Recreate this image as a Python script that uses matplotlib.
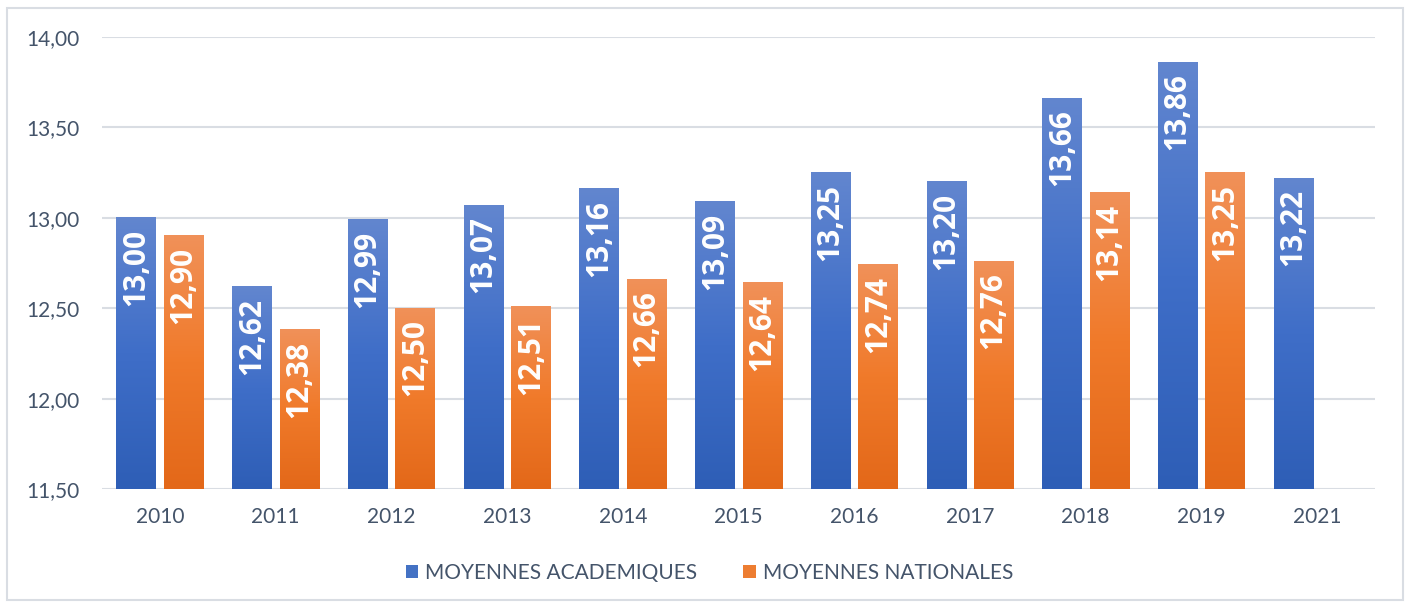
import numpy as np
import matplotlib
matplotlib.use("Agg")
import matplotlib.pyplot as plt
from matplotlib.colors import LinearSegmentedColormap
from matplotlib.patches import Rectangle, Patch

years = ["2010", "2011", "2012", "2013", "2014", "2015", "2016", "2017", "2018", "2019", "2021"]
academiques = [13.00, 12.62, 12.99, 13.07, 13.16, 13.09, 13.25, 13.20, 13.66, 13.86, 13.22]
nationales = [12.90, 12.38, 12.50, 12.51, 12.66, 12.64, 12.74, 12.76, 13.14, 13.25, None]
series_names = ["MOYENNES ACADEMIQUES", "MOYENNES NATIONALES"]

plt.rcParams['font.family'] = ['Lato', 'DejaVu Sans']

W, H = 1408, 603
fig = plt.figure(figsize=(W / 100, H / 100), dpi=100)
fig.patch.set_facecolor("white")

# outer frame
fig.add_artist(Rectangle((7 / W, 1 - 600 / H), 1396 / W, 592 / H, transform=fig.transFigure,
                         fill=False, edgecolor="#d9dde3", linewidth=1.5))

left, right, top, bottom = 102, 1375, 37, 489
ax = fig.add_axes([left / W, 1 - bottom / H, (right - left) / W, (bottom - top) / H])
ax.set_xlim(-0.5, len(years) - 0.5)
ax.set_ylim(11.5, 14.0)
for s in ax.spines.values():
    s.set_visible(False)
ax.set_yticks(np.arange(11.5, 14.01, 0.5))
ax.set_yticklabels([f"{v:.2f}".replace(".", ",") for v in np.arange(11.5, 14.01, 0.5)])
ax.set_xticks(range(len(years)))
ax.set_xticklabels(years)
ax.tick_params(axis="both", length=0, labelsize=15, labelcolor="#44546a")
ax.tick_params(axis="y", pad=16)
ax.tick_params(axis="x", pad=13)
ax.grid(axis="y", color="#d9dde3", linewidth=1.5)
ax.set_axisbelow(True)

blue_cmap = LinearSegmentedColormap.from_list("b", ["#2e5eb6", "#3f6ec8", "#6286cf"])
orange_cmap = LinearSegmentedColormap.from_list("o", ["#e36819", "#f07a2a", "#f19159"])

bw = 0.34
offs = [-0.205, 0.205]
grad = np.linspace(0, 1, 256).reshape(-1, 1)

def draw_bar(xc, val, cmap):
    x0, x1 = xc - bw / 2, xc + bw / 2
    ax.imshow(grad, extent=[x0, x1, 11.5, val], origin="lower", aspect="auto",
              cmap=cmap, zorder=2, interpolation="bicubic")
    ax.annotate(f"{val:.2f}".replace(".", ","), (xc, val), xytext=(0, -8),
                textcoords="offset points", rotation=90, ha="center", va="top",
                color="white", fontsize=21.5, fontweight="bold", zorder=3,
                family=["Open Sans", "DejaVu Sans"])

for i in range(len(years)):
    draw_bar(i + offs[0], academiques[i], blue_cmap)
    if nationales[i] is not None:
        draw_bar(i + offs[1], nationales[i], orange_cmap)

ax.set_xlim(-0.5, len(years) - 0.5)
ax.set_ylim(11.5, 14.0)

handles = [Patch(facecolor="#4472c4"), Patch(facecolor="#ed7d31")]
fig.legend(handles, series_names, loc="center", bbox_to_anchor=(0.504, 1 - 573 / H),
           ncol=2, frameon=False, fontsize=15, labelcolor="#44546a",
           handlelength=0.6, handleheight=0.6, handletextpad=0.35, columnspacing=2.2)

fig.savefig("out.png", dpi=100)
